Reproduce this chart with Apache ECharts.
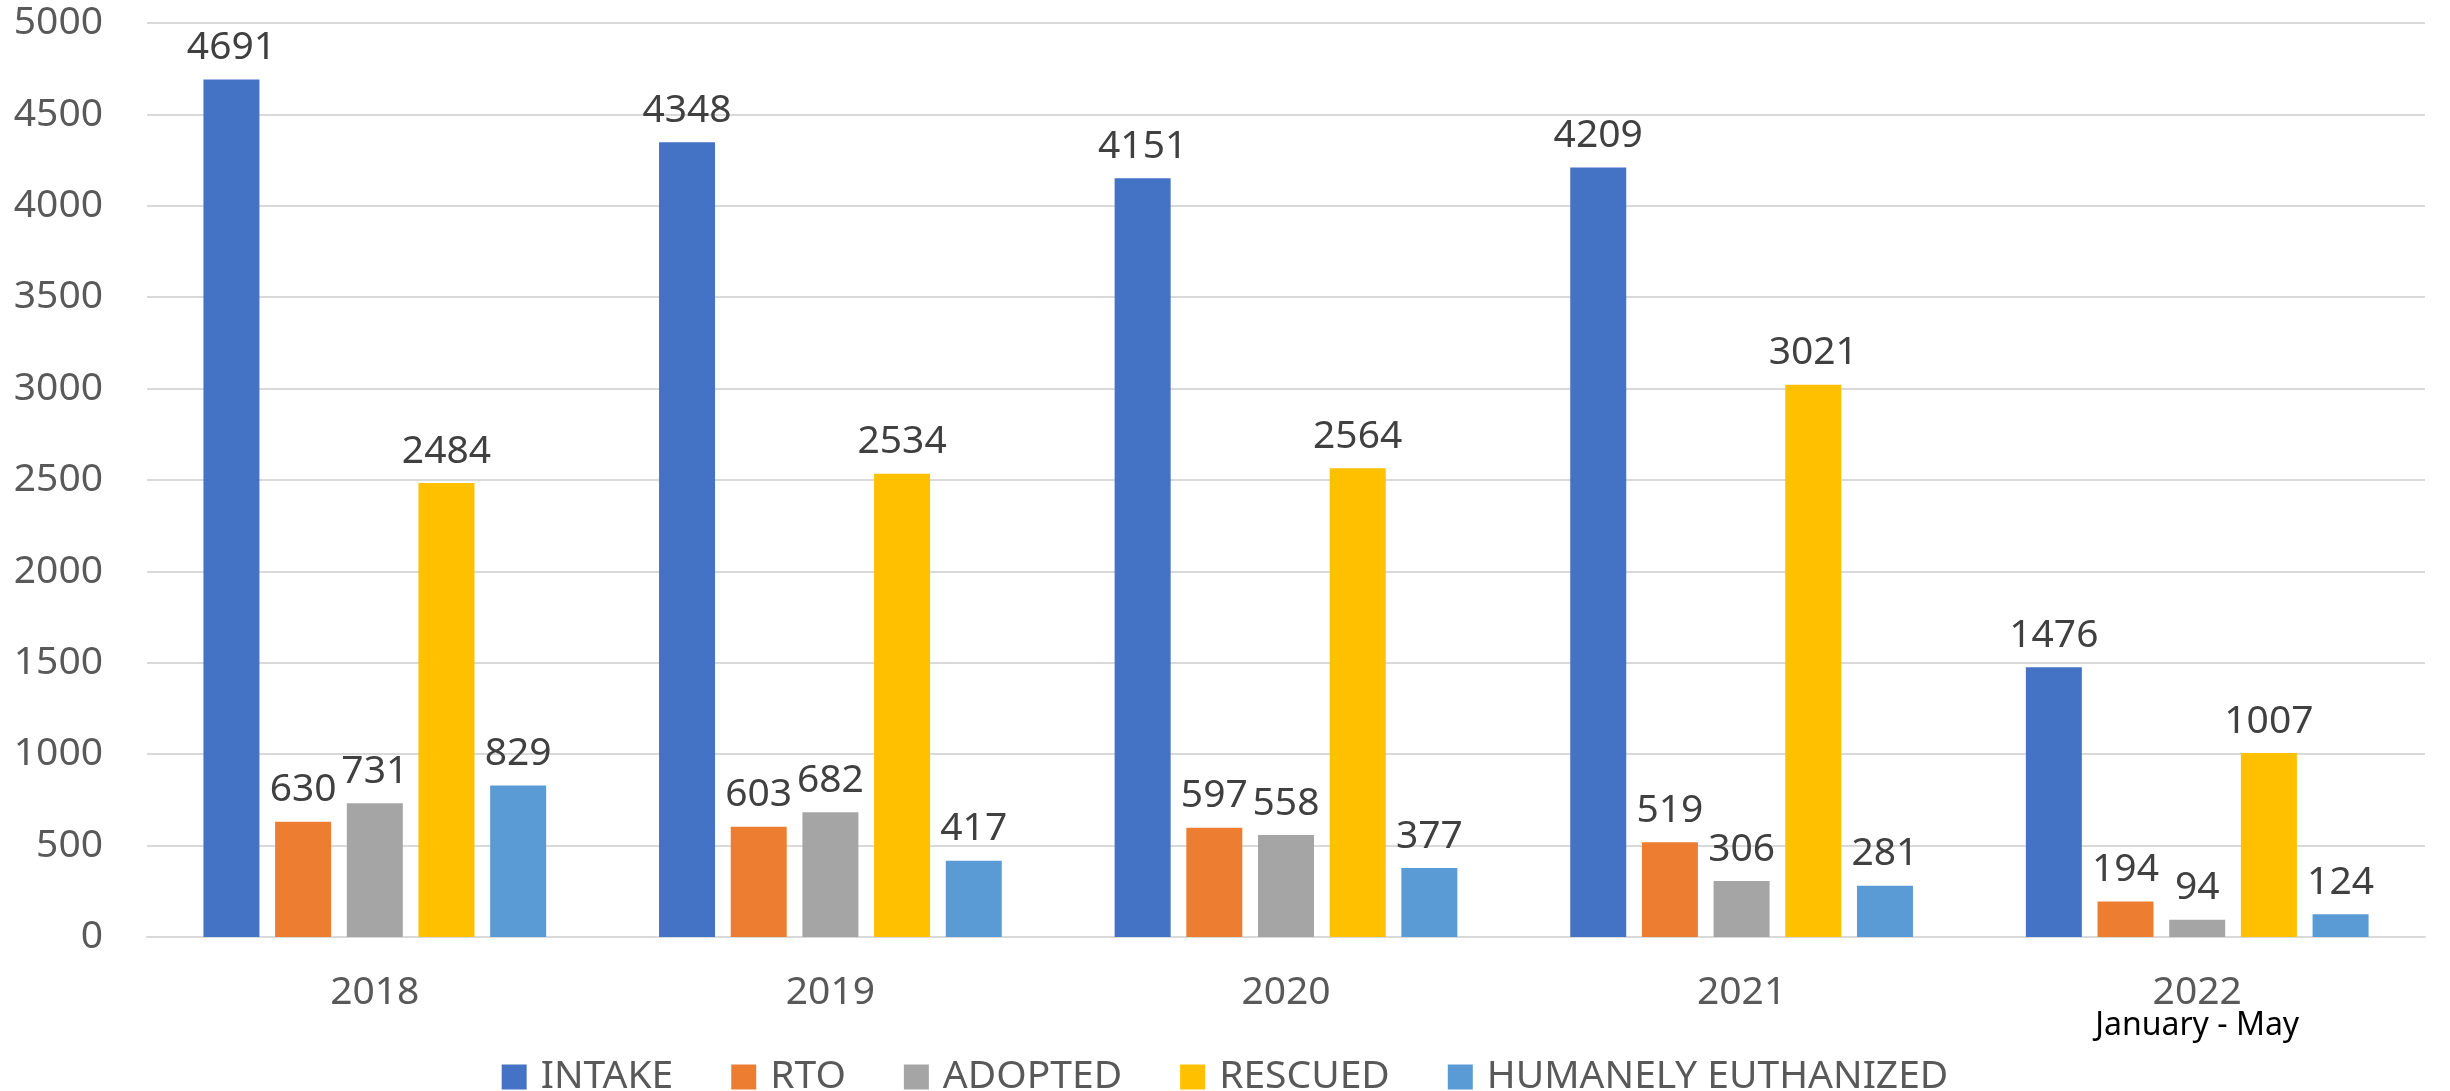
<!DOCTYPE html>
<html>
<head>
<meta charset="utf-8">
<script src="https://cdn.jsdelivr.net/npm/echarts@6/dist/echarts.min.js"></script>
<style>
html,body{margin:0;padding:0;background:#fff;}
#main{width:2450px;height:1091px;}
</style>
</head>
<body>
<div id="main"></div>
<script>
// data
var years = ['2018', '2019', '2020', '2021', '2022'];
var yearNotes = ['', '', '', '', 'January - May'];
var intake = [4691, 4348, 4151, 4209, 1476];
var rto = [630, 603, 597, 519, 194];
var adopted = [731, 682, 558, 306, 94];
var rescued = [2484, 2534, 2564, 3021, 1007];
var euthanized = [829, 417, 377, 281, 124];
var yTicks = [0, 500, 1000, 1500, 2000, 2500, 3000, 3500, 4000, 4500, 5000];

var font = 'Noto Sans';
var chart = echarts.init(document.getElementById('main'));

function barSeries(name, data) {
  return {
    name: name,
    type: 'bar',
    data: data,
    barWidth: 56,
    barGap: '28%',
    label: {
      show: true,
      position: 'top',
      distance: 12,
      color: '#404040',
      fontFamily: font,
      fontSize: 39
    }
  };
}

var option = {
  animation: false,
  color: ['#4472C4', '#ED7D31', '#A5A5A5', '#FFC000', '#5B9BD5'],
  grid: { left: 147, right: 25, top: 23, bottom: 154 },
  legend: {
    left: 'center',
    top: 1052,
    icon: 'rect',
    itemWidth: 25,
    itemHeight: 25,
    itemGap: 58,
    textStyle: { color: '#595959', fontFamily: font, fontSize: 39, lineHeight: 40, padding: [0, 0, 0, 9] }
  },
  xAxis: {
    type: 'category',
    data: years,
    axisLine: { lineStyle: { color: '#d9d9d9', width: 2 } },
    axisTick: { show: false },
    axisLabel: {
      margin: 33,
      formatter: function (v, i) {
        var s = '{y|' + v + '}';
        if (yearNotes[i]) s += '\n{s|' + yearNotes[i] + '}';
        return s;
      },
      rich: {
        y: { color: '#595959', fontFamily: font, fontSize: 39, lineHeight: 46 },
        s: { color: '#000', fontFamily: font, fontSize: 32, lineHeight: 20 }
      }
    }
  },
  yAxis: {
    type: 'value',
    min: yTicks[0],
    max: yTicks[yTicks.length - 1],
    interval: 500,
    axisLine: { show: false },
    axisTick: { show: false },
    splitLine: { lineStyle: { color: '#d9d9d9', width: 2 } },
    axisLabel: {
      color: '#595959', fontFamily: font, fontSize: 39, margin: 44,
      formatter: function (v) { return String(v); }
    }
  },
  series: [
    barSeries('INTAKE', intake),
    barSeries('RTO', rto),
    barSeries('ADOPTED', adopted),
    barSeries('RESCUED', rescued),
    barSeries('HUMANELY EUTHANIZED', euthanized)
  ]
};
chart.setOption(option);
</script>
</body>
</html>
